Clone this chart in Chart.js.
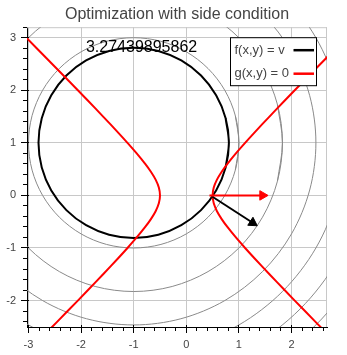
<!DOCTYPE html>
<html><head><meta charset="utf-8">
<script src="https://cdn.jsdelivr.net/npm/chart.js@4/dist/chart.umd.min.js"></script>
<style>html,body{margin:0;padding:0;background:#fff}#wrap{width:347px;height:355px;position:relative}</style>
</head><body><div id="wrap"><canvas id="c"></canvas></div>
<script>
const titleText = 'Optimization with side condition';
const levelLabel = '3.27439895862';
const legendLabels = ['f(x,y) = v', 'g(x,y) = 0'];
const xTicks = [-3, -2, -1, 0, 1, 2];
const yTicks = [-2, -1, 0, 1, 2, 3];

// level curve f(x,y) = v (black)
const levelV = [[0.748,0.532],[0.810,1.000],[0.748,1.468],[0.567,1.905],[0.280,2.280],[-0.095,2.567],[-0.532,2.748],[-1.000,2.810],[-1.468,2.748],[-1.905,2.567],[-2.280,2.280],[-2.567,1.905],[-2.748,1.468],[-2.810,1.000],[-2.748,0.532],[-2.567,0.095],[-2.280,-0.280],[-1.905,-0.567],[-1.468,-0.748],[-1.000,-0.810],[-0.532,-0.748],[-0.095,-0.567],[0.280,-0.280],[0.567,0.095],[0.748,0.532],[0.810,1.000],[0.748,1.468]];
// gray contour lines of f
const contour4 = [[0.932,0.482],[1.000,1.000],[0.932,1.518],[0.732,2.000],[0.414,2.414],[0.000,2.732],[-0.482,2.932],[-1.000,3.000],[-1.518,2.932],[-2.000,2.732],[-2.414,2.414],[-2.732,2.000],[-2.932,1.518],[-3.000,1.000],[-2.932,0.482],[-2.732,0.000],[-2.414,-0.414],[-2.000,-0.732],[-1.518,-0.932],[-1.000,-1.000],[-0.482,-0.932],[0.000,-0.732],[0.414,-0.414],[0.732,0.000],[0.932,0.482],[1.000,1.000],[0.932,1.518]];
const contour8 = [[1.732,0.268],[1.828,1.000],[1.732,1.732],[1.449,2.414],[1.000,3.000],[0.414,3.449],[-0.268,3.732],[-1.000,3.828],[-1.732,3.732],[-2.414,3.449],[-3.000,3.000],[-3.449,2.414],[-3.732,1.732],[-3.828,1.000],[-3.732,0.268],[-3.449,-0.414],[-3.000,-1.000],[-2.414,-1.449],[-1.732,-1.732],[-1.000,-1.828],[-0.268,-1.732],[0.414,-1.449],[1.000,-1.000],[1.449,-0.414],[1.732,0.268],[1.828,1.000],[1.732,1.732]];
const contour12 = [[0.732,4.000],[1.449,3.449],[2.000,2.732],[2.346,1.897],[2.464,1.000],[2.346,0.103],[2.000,-0.732],[1.449,-1.449],[0.732,-2.000],[-0.103,-2.346],[-1.000,-2.464],[-1.897,-2.346],[-2.732,-2.000],[-3.449,-1.449],[-4.000,-0.732]];
const contour16 = [[1.000,4.464],[1.828,3.828],[2.464,3.000],[2.864,2.035],[3.000,1.000],[2.864,-0.035],[2.464,-1.000],[1.828,-1.828],[1.000,-2.464],[0.035,-2.864],[-1.000,-3.000],[-2.035,-2.864],[-3.000,-2.464],[-3.828,-1.828]];
const contour20 = [[2.873,3.236],[3.320,2.157],[3.472,1.000],[3.320,-0.157],[2.873,-1.236],[2.162,-2.162],[1.236,-2.873],[0.157,-3.320],[-1.000,-3.472]];
const contour24 = [[3.899,1.000],[3.732,-0.268],[3.243,-1.449],[2.464,-2.464],[1.449,-3.243],[0.268,-3.732]];
// side condition g(x,y) = 0 (red), two branches
const gLeft = [[-3.437,3.4],[-3.041,3.0],[-2.648,2.6],[-2.256,2.2],[-1.868,1.8],[-1.581,1.5],[-1.300,1.2],[-1.118,1.0],[-0.943,0.8],[-0.781,0.6],[-0.673,0.45],[-0.583,0.3],[-0.522,0.15],[-0.500,0],[-0.522,-0.15],[-0.583,-0.3],[-0.673,-0.45],[-0.781,-0.6],[-0.943,-0.8],[-1.118,-1.0],[-1.300,-1.2],[-1.581,-1.5],[-1.868,-1.8],[-2.256,-2.2],[-2.648,-2.6]];
const gRight = [[3.437,3.4],[3.041,3.0],[2.648,2.6],[2.256,2.2],[1.868,1.8],[1.581,1.5],[1.300,1.2],[1.118,1.0],[0.943,0.8],[0.781,0.6],[0.673,0.45],[0.583,0.3],[0.522,0.15],[0.500,0],[0.522,-0.15],[0.583,-0.3],[0.673,-0.45],[0.781,-0.6],[0.943,-0.8],[1.118,-1.0],[1.300,-1.2],[1.581,-1.5],[1.868,-1.8],[2.256,-2.2],[2.648,-2.6]];
// gradient arrows at the current point
const gradG = [[0.44,0.0],[1.45,0.0]];
const gradF = [[0.49,-0.02],[1.262,-0.52]];

const FONT = '"Liberation Sans", Arial, Helvetica, sans-serif';
const toXY = arr => arr.map(p => ({x: p[0], y: p[1]}));
const curve = (label, pts, color, width) => ({
  label, data: toXY(pts), showLine: true, borderColor: color, borderWidth: width,
  pointRadius: 0, tension: 0.33, fill: false, clip: 0
});
const arrow = (pts, color, rot) => ({
  data: toXY(pts), showLine: true, borderColor: color, borderWidth: 2, tension: 0,
  pointRadius: [0, 5.5], pointStyle: 'triangle', pointRotation: [0, rot],
  pointBackgroundColor: color, pointBorderColor: color, pointBorderWidth: 1, clip: 0
});

const datasets = [
  arrow(gradG, '#ff0000', 90),
  arrow(gradF, '#000000', 123),
  curve(legendLabels[1], gLeft, '#ff0000', 2),
  curve(legendLabels[1], gRight, '#ff0000', 2),
  curve(legendLabels[0], levelV, '#000000', 2),
  curve('', contour4, '#8a8a8a', 1),
  curve('', contour8, '#8a8a8a', 1),
  curve('', contour12, '#8a8a8a', 1),
  curve('', contour16, '#8a8a8a', 1),
  curve('', contour20, '#8a8a8a', 1),
  curve('', contour24, '#8a8a8a', 1)
];

const align = p => Math.round(p - 0.5) + 0.5;

const deco = {
  id: 'deco',
  beforeDatasetsDraw(chart) {
    const {ctx, chartArea: a} = chart;
    ctx.save();
    ctx.strokeStyle = '#c8c8c8'; ctx.lineWidth = 1;
    ctx.beginPath();
    ctx.moveTo(a.left, a.top + 0.5); ctx.lineTo(a.right, a.top + 0.5);
    ctx.moveTo(a.right - 0.5, a.top); ctx.lineTo(a.right - 0.5, a.bottom);
    ctx.stroke();
    ctx.restore();
  },
  afterDatasetsDraw(chart) {
    const {ctx, scales: {x, y}} = chart;
    ctx.save();
    ctx.font = '16px ' + FONT;
    ctx.fillStyle = '#000';
    ctx.textAlign = 'center';
    ctx.textBaseline = 'alphabetic';
    ctx.fillText(levelLabel, x.getPixelForValue(-0.85), y.getPixelForValue(2.73));
    ctx.restore();
  },
  afterDraw(chart) {
    const {ctx, chartArea: a, scales: {x, y}} = chart;
    ctx.save();
    ctx.strokeStyle = '#000'; ctx.lineWidth = 1;
    ctx.beginPath();
    const minor = 0.2;
    // x ticks
    for (let v = Math.ceil(x.min / minor) * minor; v <= x.max + 1e-9; v += minor) {
      const p = align(x.getPixelForValue(v));
      const major = Math.abs(v - Math.round(v)) < 1e-6;
      ctx.moveTo(p, a.bottom - (major ? 2 : 0));
      ctx.lineTo(p, a.bottom + (major ? 6 : 4));
    }
    for (let v = Math.ceil(y.min / minor) * minor; v <= y.max + 1e-9; v += minor) {
      const p = align(y.getPixelForValue(v));
      const major = Math.abs(v - Math.round(v)) < 1e-6;
      ctx.moveTo(a.left + (major ? 2 : 0), p);
      ctx.lineTo(a.left - (major ? 6 : 4), p);
    }
    ctx.stroke();

    // legend
    const bw = 86, bh = 48;
    const bx = a.right - 10.5 - bw, by = a.top + 10.5;
    ctx.fillStyle = '#fff';
    ctx.fillRect(bx, by, bw, bh);
    ctx.strokeStyle = '#000'; ctx.lineWidth = 1;
    ctx.strokeRect(bx, by, bw, bh);
    const colors = ['#000000', '#ff0000'];
    ctx.font = '13px ' + FONT;
    ctx.textAlign = 'left';
    ctx.textBaseline = 'middle';
    for (let i = 0; i < legendLabels.length; i++) {
      const cy = by + 12.5 + i * 23.5;
      ctx.fillStyle = '#444';
      ctx.fillText(legendLabels[i], bx + 4, cy);
      ctx.strokeStyle = colors[i]; ctx.lineWidth = 2.5;
      ctx.beginPath();
      ctx.moveTo(bx + 63, cy); ctx.lineTo(bx + 83.5, cy);
      ctx.stroke();
    }
    ctx.restore();
  }
};

const tickFont = {family: FONT, size: 11};
new Chart(document.getElementById('c'), {
  type: 'scatter',
  data: {datasets},
  options: {
    responsive: true, maintainAspectRatio: false, animation: false, events: [],
    layout: {padding: {left: 0, right: 20, top: 0, bottom: 0}},
    elements: {line: {capBezierPoints: false}, point: {hoverRadius: 0}},
    plugins: {
      legend: {display: false}, tooltip: {enabled: false},
      title: {display: true, text: titleText, fullSize: false, color: '#444',
        font: {family: FONT, size: 16, weight: 'normal'}, padding: {top: 5, bottom: 3}}
    },
    scales: {
      x: {
        type: 'linear', min: -3.0285, max: 2.675,
        afterBuildTicks: s => { s.ticks = xTicks.map(v => ({value: v})); },
        afterFit: s => { s.height = 28; },
        grid: {color: '#c8c8c8', drawTicks: false},
        border: {color: '#000', width: 1},
        ticks: {color: '#444', font: tickFont, padding: 11, maxRotation: 0, autoSkip: false}
      },
      y: {
        type: 'linear', min: -2.503, max: 3.2,
        afterBuildTicks: s => { s.ticks = yTicks.map(v => ({value: v})); },
        afterFit: s => { s.width = 27; },
        grid: {color: '#c8c8c8', drawTicks: false},
        border: {color: '#000', width: 1},
        ticks: {color: '#444', font: tickFont, padding: 11, autoSkip: false}
      }
    }
  },
  plugins: [deco]
});
</script>
</body></html>
